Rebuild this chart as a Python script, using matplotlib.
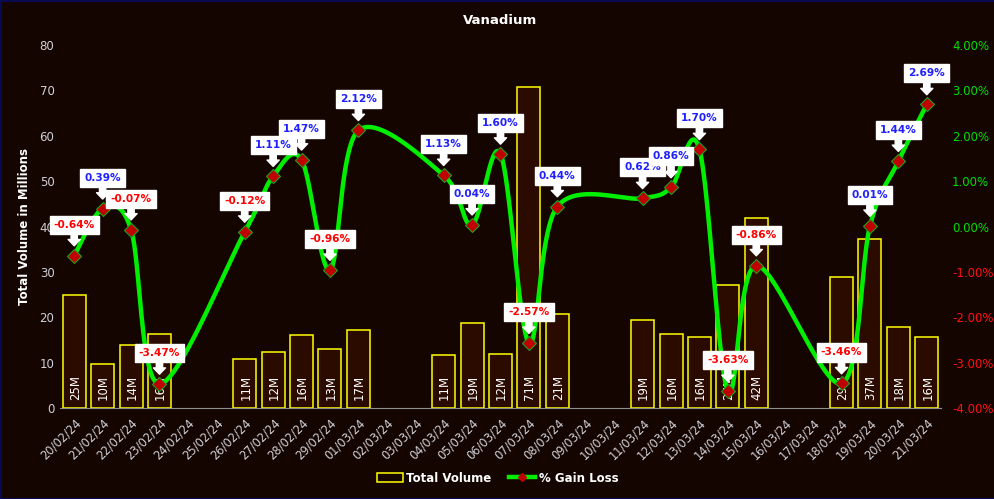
import numpy as np
import matplotlib
matplotlib.use("Agg")
import matplotlib.pyplot as plt
from matplotlib.lines import Line2D
from matplotlib.patches import Patch

# ---------------- data ----------------
dates = ["20/02/24", "21/02/24", "22/02/24", "23/02/24", "24/02/24", "25/02/24",
         "26/02/24", "27/02/24", "28/02/24", "29/02/24", "01/03/24", "02/03/24",
         "03/03/24", "04/03/24", "05/03/24", "06/03/24", "07/03/24", "08/03/24",
         "09/03/24", "10/03/24", "11/03/24", "12/03/24", "13/03/24", "14/03/24",
         "15/03/24", "16/03/24", "17/03/24", "18/03/24", "19/03/24", "20/03/24",
         "21/03/24"]
# volume in millions (None = no trading)
volume = [25.0, 9.7, 13.8, 16.2, None, None, 10.8, 12.3, 16.0, 12.9, 17.3, None,
          None, 11.6, 18.8, 11.8, 70.8, 20.8, None, None, 19.3, 16.2, 15.6, 27.0,
          41.8, None, None, 28.9, 37.2, 17.9, 15.6]
volume_labels = ["25M", "10M", "14M", "16M", "", "", "11M", "12M", "16M", "13M",
                 "17M", "", "", "11M", "19M", "12M", "71M", "21M", "", "", "19M",
                 "16M", "16M", "27M", "42M", "", "", "29M", "37M", "18M", "16M"]
# % gain / loss
gain = [-0.64, 0.39, -0.07, -3.47, None, None, -0.12, 1.11, 1.47, -0.96, 2.12, None,
        None, 1.13, 0.04, 1.60, -2.57, 0.44, None, None, 0.62, 0.86, 1.70, -3.63,
        -0.86, None, None, -3.46, 0.01, 1.44, 2.69]
left_ticks = [0, 10, 20, 30, 40, 50, 60, 70, 80]
right_ticks = [-4, -3, -2, -1, 0, 1, 2, 3, 4]

# ---------------- style ----------------
BG = "#150500"
BAR_FILL = "#2b0a00"
BAR_EDGE = "#ffff00"
LINE_GREEN = "#00ee00"
MARK_RED = "#c00000"
POS_BLUE = "#2020ff"
NEG_RED = "#ff0000"
TICK_GREY = "#d0d0d8"
FONT = "DejaVu Sans"

plt.rcParams["font.family"] = [FONT]

fig = plt.figure(figsize=(9.95, 4.99), dpi=100, facecolor=BG)
fig.patch.set_edgecolor("#0a0a50")
fig.patch.set_linewidth(2)
ax = fig.add_axes([60 / 995, 1 - 408 / 499, 881 / 995, 363 / 499])
ax.set_facecolor(BG)
ax2 = ax.twinx()

x = np.arange(len(dates))

# bars
bx = [i for i, v in enumerate(volume) if v is not None]
bv = [volume[i] for i in bx]
ax.bar(bx, bv, width=0.81, color=BAR_FILL, edgecolor=BAR_EDGE, linewidth=1.1, zorder=2)
for i in bx:
    ax.annotate(volume_labels[i], (i, 0), xytext=(1, 8), textcoords="offset pixels",
                rotation=90, ha="center", va="bottom", color="white", fontsize=8.5,
                zorder=3)

ax.set_xlim(-0.5, len(dates) - 0.5)
ax.set_ylim(0, 80)
ax.set_yticks(left_ticks)
ax.set_yticklabels([str(t) for t in left_ticks], color=TICK_GREY, fontsize=8.5)
ax.set_xticks(x)
ax.set_xticklabels(dates, rotation=45, ha="right", rotation_mode="anchor",
                   color=TICK_GREY, fontsize=8.3)
ax.tick_params(axis="both", length=0, pad=4)
ax.tick_params(axis="x", pad=6)
for s in ["top", "right", "left"]:
    ax.spines[s].set_visible(False)
ax.spines["bottom"].set_color("#909090")
ax.set_ylabel("Total Volume in Millions", color="white", fontsize=8.5,
              fontweight="bold", labelpad=6)

# smooth line (Bezier / Catmull-Rom like Excel smoothing)
px = np.array([i for i, v in enumerate(gain) if v is not None], dtype=float)
py = np.array([gain[int(i)] for i in px], dtype=float)
P = np.column_stack([px, py])
curve = []
n = len(P)
for k in range(n - 1):
    p0 = P[k - 1] if k > 0 else P[k]
    p1 = P[k]
    p2 = P[k + 1]
    p3 = P[k + 2] if k + 2 < n else P[k + 1]
    c1 = p1 + (p2 - p0) / 6.0
    c2 = p2 - (p3 - p1) / 6.0
    t = np.linspace(0, 1, 40)[:, None]
    seg = ((1 - t) ** 3) * p1 + 3 * ((1 - t) ** 2) * t * c1 + 3 * (1 - t) * t ** 2 * c2 + t ** 3 * p2
    curve.append(seg if k == 0 else seg[1:])
curve = np.vstack(curve)

ax2.plot(curve[:, 0], curve[:, 1], color=LINE_GREEN, linewidth=3.2, zorder=4,
         solid_capstyle="round")
ax2.plot(px, py, linestyle="none", marker="D", markersize=7, markerfacecolor=MARK_RED,
         markeredgecolor="#20a020", markeredgewidth=0.8, zorder=5)

ax2.set_ylim(-4, 4)
ax2.set_yticks(right_ticks)
ax2.set_yticklabels([f"{t:.2f}%" for t in right_ticks], fontsize=8.5)
for lbl, t in zip(ax2.get_yticklabels(), right_ticks):
    lbl.set_color("#00dd00" if t >= 0 else "#ff1010")
ax2.tick_params(axis="y", length=0, pad=8)
for s in ["top", "right", "left", "bottom"]:
    ax2.spines[s].set_visible(False)

# callout labels
for xi, yi in zip(px, py):
    col = POS_BLUE if yi >= 0 else NEG_RED
    ax2.annotate(f"{yi:.2f}%", (xi, yi), xytext=(0, 31), textcoords="offset pixels",
                 ha="center", va="center", color=col, fontsize=7.6, fontweight="bold",
                 bbox=dict(boxstyle="square,pad=0.38", fc="white", ec="white"),
                 arrowprops=dict(arrowstyle="simple,head_length=0.6,head_width=1.15,tail_width=0.6",
                                 fc="white", ec="white", shrinkA=0, shrinkB=7),
                 zorder=6)

ax.set_title("Vanadium", color="white", fontsize=9.5, fontweight="bold", pad=15)

# legend
handles = [Patch(facecolor=BG, edgecolor=BAR_EDGE, linewidth=1.1, label="Total Volume"),
           Line2D([0], [0], color=LINE_GREEN, linewidth=3.2, marker="D", markersize=4,
                  markerfacecolor=MARK_RED, markeredgecolor=MARK_RED, label="% Gain Loss")]
leg = fig.legend(handles=handles, loc="center", bbox_to_anchor=(0.5, 1 - 478 / 499),
                 ncol=2, frameon=False, fontsize=8.5, columnspacing=1.5,
                 handlelength=2.2, handletextpad=0.3)
for txt in leg.get_texts():
    txt.set_color("white")
    txt.set_fontweight("bold")

fig.savefig("out.png", dpi=100, facecolor=BG, edgecolor=fig.patch.get_edgecolor())
